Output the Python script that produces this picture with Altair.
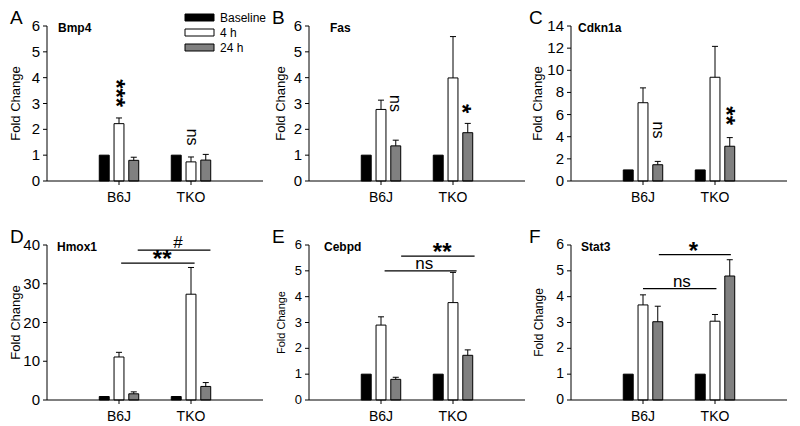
import altair as alt
import pandas as pd

# ---------------- data ----------------
strains = ["B6J", "TKO"]
times = ["Baseline", "4 h", "24 h"]
fills = ["#000000", "#ffffff", "#808080"]
genes = ["Bmp4", "Fas", "Cdkn1a", "Hmox1", "Cebpd", "Stat3"]
letters = ["A", "B", "C", "D", "E", "F"]
y_max = [6, 6, 14, 40, 6, 6]
y_step = [1, 1, 2, 10, 1, 1]
y_title = "Fold Change"

# fold change, order: B6J (Baseline, 4 h, 24 h), TKO (Baseline, 4 h, 24 h)
bmp4_mean = [1.00, 2.22, 0.80, 1.00, 0.74, 0.81]
bmp4_err = [0.00, 0.22, 0.12, 0.00, 0.19, 0.22]
fas_mean = [1.00, 2.77, 1.36, 1.00, 3.99, 1.87]
fas_err = [0.00, 0.36, 0.22, 0.00, 1.60, 0.36]
cdkn1a_mean = [1.00, 7.07, 1.47, 1.00, 9.37, 3.14]
cdkn1a_err = [0.00, 1.34, 0.30, 0.00, 2.79, 0.78]
hmox1_mean = [0.90, 11.1, 1.60, 0.90, 27.3, 3.50]
hmox1_err = [0.00, 1.20, 0.50, 0.00, 6.90, 1.00]
cebpd_mean = [1.00, 2.90, 0.80, 1.00, 3.77, 1.73]
cebpd_err = [0.00, 0.32, 0.08, 0.00, 1.17, 0.21]
stat3_mean = [1.00, 3.68, 3.03, 1.00, 3.05, 4.80]
stat3_err = [0.00, 0.39, 0.60, 0.00, 0.26, 0.63]

means = [bmp4_mean, fas_mean, cdkn1a_mean, hmox1_mean, cebpd_mean, stat3_mean]
errs = [bmp4_err, fas_err, cdkn1a_err, hmox1_err, cebpd_err, stat3_err]

# vertical significance marks (panels A-C): text, x (group units), y
bmp4_sig = ["***", "ns"]
bmp4_sig_x = [1.03, 2.02]
bmp4_sig_y = [3.4, 1.7]
fas_sig = ["ns", "*"]
fas_sig_x = [1.2, 2.2]
fas_sig_y = [3.0, 2.8]
cdkn1a_sig = ["ns", "**"]
cdkn1a_sig_x = [1.21, 2.22]
cdkn1a_sig_y = [4.6, 5.9]

# comparison brackets (panels D-F)
hmox1_br = ["**", "#"]
hmox1_br_x1 = [1.03, 1.26]
hmox1_br_x2 = [2.05, 2.27]
hmox1_br_y = [35.3, 38.7]
hmox1_br_tx = [1.60, 1.82]
cebpd_br = ["ns", "**"]
cebpd_br_x1 = [1.05, 1.28]
cebpd_br_x2 = [2.05, 2.30]
cebpd_br_y = [5.0, 5.57]
cebpd_br_tx = [1.60, 1.85]
stat3_br = ["ns", "*"]
stat3_br_x1 = [1.00, 1.22]
stat3_br_x2 = [2.02, 2.22]
stat3_br_y = [4.31, 5.63]
stat3_br_tx = [1.54, 1.70]

vert_sigs = {
    0: (bmp4_sig, bmp4_sig_x, bmp4_sig_y),
    1: (fas_sig, fas_sig_x, fas_sig_y),
    2: (cdkn1a_sig, cdkn1a_sig_x, cdkn1a_sig_y),
}
brackets = {
    3: (hmox1_br, hmox1_br_x1, hmox1_br_x2, hmox1_br_y, hmox1_br_tx),
    4: (cebpd_br, cebpd_br_x1, cebpd_br_x2, cebpd_br_y, cebpd_br_tx),
    5: (stat3_br, stat3_br_x1, stat3_br_x2, stat3_br_y, stat3_br_tx),
}

# ---------------- style ----------------
FONT = "Liberation Sans"
W = 216
H = 155
title_x = [-31, -28, -33, -31, -27, -32]
title_size = [13, 13, 13, 13, 11, 12]
ylab_size = [15, 15, 15, 15, 13, 14]
gene_dx = [11, 21, 7, 10, 15, 10]
letter_dx = [-37, -37, -42, -37, -37, -42]

SLOT = 0.205
HALF = 0.069
CAP = 0.042
TICK = 4


def make_panel(i):
    rows = []
    for si, s in enumerate(strains):
        for ti, t in enumerate(times):
            k = si * 3 + ti
            rows.append({"strain": s, "time": t, "group": si + 1, "slot": ti - 1,
                         "mean": means[i][k], "err": errs[i][k]})
    df = pd.DataFrame(rows)
    xs = alt.Scale(domain=[0, 3], nice=False, zero=False)
    ys = alt.Scale(domain=[0, y_max[i]], nice=False, zero=True)

    base = alt.Chart(df).transform_calculate(
        xc=f"datum.group + datum.slot * {SLOT}",
        xl=f"datum.group + datum.slot * {SLOT} - {HALF}",
        xr=f"datum.group + datum.slot * {SLOT} + {HALF}",
        cl=f"datum.group + datum.slot * {SLOT} - {CAP}",
        cr=f"datum.group + datum.slot * {SLOT} + {CAP}",
        top="datum.mean + datum.err",
        zero="0",
    )

    bars = base.mark_rect(stroke="black", strokeWidth=1).encode(
        x=alt.X("xl:Q", scale=xs, axis=None),
        x2="xr:Q",
        y=alt.Y("mean:Q", scale=ys, axis=None),
        y2="zero:Q",
        fill=alt.Fill("time:N", scale=alt.Scale(domain=times, range=fills), legend=None),
    )
    eb = base.transform_filter("datum.err > 0")
    err_line = eb.mark_rule(color="black", strokeWidth=1).encode(
        x=alt.X("xc:Q", scale=xs, axis=None),
        y=alt.Y("mean:Q", scale=ys, axis=None),
        y2="top:Q",
    )
    caps = eb.mark_rule(color="black", strokeWidth=1).encode(
        x=alt.X("cl:Q", scale=xs, axis=None),
        x2="cr:Q",
        y=alt.Y("top:Q", scale=ys, axis=None),
    )

    # ---- axes drawn through the panel scales ----
    yt = alt.Chart(pd.DataFrame({"v": list(range(0, y_max[i] + 1, y_step[i]))}))
    y_dom = alt.Chart(pd.DataFrame({"a": [0]})).mark_rule(color="black", strokeWidth=1).encode(
        x=alt.value(0), y=alt.value(0), y2=alt.value(H))
    y_ticks = yt.mark_rule(color="black", strokeWidth=1).encode(
        x=alt.value(-TICK), x2=alt.value(0), y=alt.Y("v:Q", scale=ys, axis=None))
    y_labels = yt.mark_text(align="right", baseline="middle", fontSize=ylab_size[i],
                            font=FONT, color="black").encode(
        x=alt.value(-TICK - 3), y=alt.Y("v:Q", scale=ys, axis=None), text="v:Q")
    y_ttl = alt.Chart(pd.DataFrame({"t": [y_title]})).mark_text(
        angle=270, align="center", baseline="middle", fontSize=title_size[i],
        font=FONT, color="black").encode(
        x=alt.value(title_x[i]), y=alt.value(H / 2), text="t:N")
    xt = alt.Chart(pd.DataFrame({"g": [1, 2], "s": strains}))
    x_dom = alt.Chart(pd.DataFrame({"a": [0]})).mark_rule(color="black", strokeWidth=1).encode(
        x=alt.value(0), x2=alt.value(W), y=alt.value(H))
    x_ticks = xt.mark_rule(color="black", strokeWidth=1).encode(
        x=alt.X("g:Q", scale=xs, axis=None), y=alt.value(H), y2=alt.value(H + TICK))
    x_labels = xt.mark_text(align="center", baseline="top", fontSize=14,
                            font=FONT, color="black").encode(
        x=alt.X("g:Q", scale=xs, axis=None), y=alt.value(H + TICK + 6), text="s:N")

    layers = [bars, err_line, caps, y_dom, y_ticks, y_labels, y_ttl, x_dom, x_ticks, x_labels]

    if i in vert_sigs:
        t, x, y = vert_sigs[i]
        sd = alt.Chart(pd.DataFrame({"t": t, "x": x, "y": y}))
        enc = dict(x=alt.X("x:Q", scale=xs, axis=None), y=alt.Y("y:Q", scale=ys, axis=None), text="t:N")
        layers.append(sd.transform_filter("indexof(datum.t, '*') >= 0").mark_text(
            angle=90, fontSize=24, fontWeight="bold", baseline="middle", align="center",
            dy=6, font=FONT, color="black").encode(**enc))
        layers.append(sd.transform_filter("indexof(datum.t, '*') < 0").mark_text(
            angle=90, fontSize=16, baseline="middle", align="center",
            font=FONT, color="black").encode(**enc))

    if i in brackets:
        t, x1, x2, y, tx = brackets[i]
        bd = alt.Chart(pd.DataFrame({"t": t, "x1": x1, "x2": x2, "y": y, "tx": tx}))
        layers.append(bd.mark_rule(color="black", strokeWidth=1.3).encode(
            x=alt.X("x1:Q", scale=xs, axis=None), x2="x2:Q",
            y=alt.Y("y:Q", scale=ys, axis=None)))
        enc = dict(x=alt.X("tx:Q", scale=xs, axis=None), y=alt.Y("y:Q", scale=ys, axis=None), text="t:N")
        layers.append(bd.transform_filter("indexof(datum.t, '*') >= 0").mark_text(
            fontSize=24, fontWeight="bold", baseline="alphabetic", align="center",
            dy=4, font=FONT, color="black").encode(**enc))
        layers.append(bd.transform_filter("indexof(datum.t, '*') < 0").mark_text(
            fontSize=17, baseline="alphabetic", align="center",
            dy=-2, font=FONT, color="black").encode(**enc))

    one = pd.DataFrame({"g": [genes[i]], "l": [letters[i]]})
    layers.append(alt.Chart(one).mark_text(
        fontSize=12, fontWeight="bold", align="left", baseline="middle",
        font=FONT, color="black").encode(
        x=alt.value(gene_dx[i]), y=alt.value(2), text="g:N"))
    layers.append(alt.Chart(one).mark_text(
        fontSize=19, align="left", baseline="top", font=FONT, color="black").encode(
        x=alt.value(letter_dx[i]), y=alt.value(-17), text="l:N"))

    if i == 0:
        for k, (t, c) in enumerate(zip(times, fills)):
            ld = alt.Chart(pd.DataFrame({"t": [t]}))
            layers.append(ld.mark_rect(fill=c, stroke="black", strokeWidth=1).encode(
                x=alt.value(138), x2=alt.value(167),
                y=alt.value(-12 + 15 * k), y2=alt.value(-5 + 15 * k)))
            layers.append(ld.mark_text(fontSize=12, align="left", baseline="middle",
                                       font=FONT, color="black").encode(
                x=alt.value(173), y=alt.value(-8.5 + 15 * k), text="t:N"))

    return alt.layer(*layers).properties(width=W, height=H)


chart = alt.concat(
    *[make_panel(i) for i in range(6)],
    columns=3,
    spacing={"row": 64, "column": 46},
    bounds="flush",
).properties(
    padding={"left": 2, "top": 1, "right": 0, "bottom": 0}, background="white"
).configure_view(stroke=None)

chart.save("out.html", embed_options={"renderer": "svg", "actions": False})
